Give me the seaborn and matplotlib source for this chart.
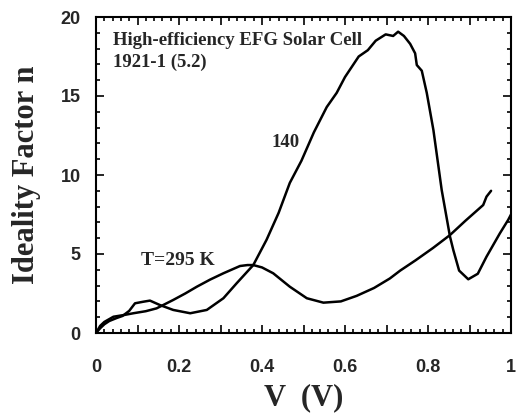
import numpy as np
import pandas as pd
import matplotlib
matplotlib.use("Agg")
import matplotlib.pyplot as plt
import seaborn as sns
from matplotlib.ticker import MultipleLocator, FuncFormatter

# ---- data ----
v_295 = [0, 0.01, 0.02, 0.042, 0.07, 0.09, 0.12, 0.146, 0.186, 0.215, 0.243, 0.275,
         0.307, 0.347, 0.365, 0.379, 0.40, 0.427, 0.467, 0.508, 0.548, 0.59, 0.628,
         0.67, 0.708, 0.733, 0.77, 0.812, 0.853, 0.89, 0.933, 0.941, 0.952]
n_295 = [0, 0.45, 0.7, 1.03, 1.15, 1.25, 1.38, 1.56, 2.09, 2.5, 2.93, 3.38,
         3.78, 4.24, 4.3, 4.3, 4.15, 3.78, 2.93, 2.2, 1.92, 2.0, 2.35,
         2.85, 3.45, 3.95, 4.6, 5.38, 6.2, 7.1, 8.1, 8.63, 9.0]

v_140 = [0, 0.01, 0.02, 0.032, 0.05, 0.064, 0.08, 0.094, 0.114, 0.13, 0.154, 0.186,
         0.227, 0.267, 0.307, 0.339, 0.379, 0.411, 0.44, 0.467, 0.495, 0.525, 0.556,
         0.58, 0.6, 0.633, 0.655, 0.674, 0.698, 0.716, 0.728, 0.742, 0.757, 0.769,
         0.773, 0.785, 0.797, 0.813, 0.833, 0.853, 0.861, 0.875, 0.897, 0.92, 0.941,
         0.973, 0.993, 1.0]
n_140 = [0, 0.3, 0.55, 0.76, 0.95, 1.08, 1.4, 1.88, 1.98, 2.05, 1.77, 1.46,
         1.25, 1.46, 2.2, 3.15, 4.3, 5.9, 7.6, 9.5, 10.9, 12.7, 14.3,
         15.2, 16.2, 17.5, 17.9, 18.5, 18.9, 18.8, 19.07, 18.8, 18.3, 17.7,
         16.96, 16.6, 15.2, 12.85, 9.05, 6.1, 5.25, 3.95, 3.4, 3.75, 4.83,
         6.3, 7.15, 7.5]

x_ticks = [0, 0.2, 0.4, 0.6, 0.8, 1]
y_ticks = [0, 5, 10, 15, 20]

df = pd.concat([
    pd.DataFrame({"V": v_295, "n": n_295, "T": "295 K"}),
    pd.DataFrame({"V": v_140, "n": n_140, "T": "140 K"}),
], ignore_index=True)

sns.set_style("ticks")
plt.rcParams["font.family"] = ["Liberation Serif", "DejaVu Serif"]
plt.rcParams["font.weight"] = "bold"

fig = plt.figure(figsize=(5.27, 4.13), dpi=100)
ax = fig.add_axes([96 / 527, 1 - 333 / 413, (511 - 96) / 527, (333 - 17) / 413])

sns.lineplot(data=df, x="V", y="n", units="T", estimator=None, sort=False,
             color="black", linewidth=1.8, ax=ax, legend=False)

ax.set_xlim(0, 1)
ax.set_ylim(0, 20)
ax.xaxis.set_major_locator(MultipleLocator(0.1))
ax.xaxis.set_minor_locator(MultipleLocator(0.02))
ax.yaxis.set_major_locator(MultipleLocator(5))
ax.yaxis.set_minor_locator(MultipleLocator(1))


def xfmt(val, pos):
    r = round(val, 3)
    k = int(round(r * 10))
    if k % 2 == 0:
        if k == 0:
            return "0"
        if k == 10:
            return "1"
        return f"{r:.1f}"
    return ""


ax.xaxis.set_major_formatter(FuncFormatter(xfmt))
ax.tick_params(which="both", direction="in", top=True, right=True, width=1.2,
               color="black")
ax.tick_params(which="major", length=6, labelsize=13)
ax.tick_params(which="minor", length=3)
ax.tick_params(axis="x", which="major", pad=19)
ax.tick_params(axis="y", which="major", pad=11)
for lab in ax.get_xticklabels() + ax.get_yticklabels():
    lab.set_fontweight("bold")
    lab.set_family(["Liberation Sans", "DejaVu Sans"])
for s in ax.spines.values():
    s.set_linewidth(1.5)
    s.set_color("black")

ax.set_xlabel("V  (V)", fontsize=22, fontweight="bold", labelpad=5)
ax.set_ylabel("Ideality Factor n", fontsize=22, fontweight="bold", labelpad=14)

ax.text(0.041, 18.5, "High-efficiency EFG Solar Cell", fontsize=13.5,
        fontweight="bold", va="center", ha="left")
ax.text(0.041, 17.15, "1921-1 (5.2)", fontsize=13.5, fontweight="bold",
        va="center", ha="left")
ax.text(0.457, 12.03, "140", fontsize=13.5, fontweight="bold", va="center",
        ha="center")
ax.text(0.198, 4.6, "T=295 K", fontsize=14, fontweight="bold", va="center",
        ha="center")

fig.savefig("out.png", dpi=100)
